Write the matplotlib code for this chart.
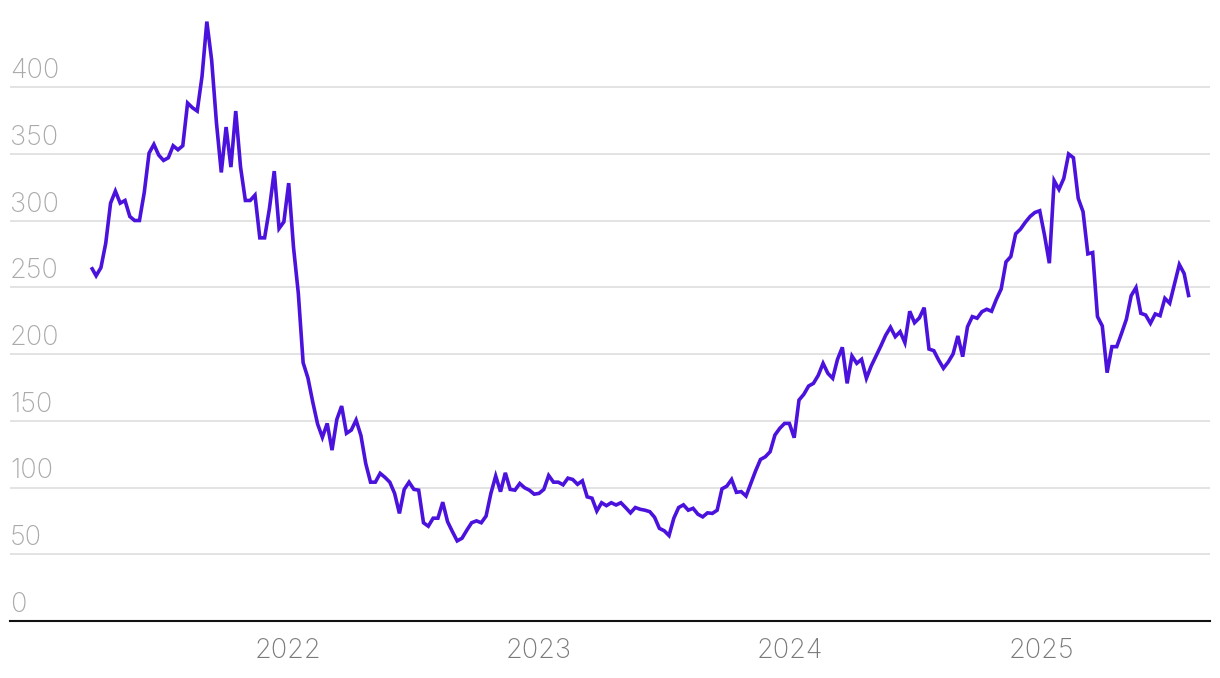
import matplotlib
matplotlib.use("Agg")
import matplotlib.pyplot as plt
import matplotlib.dates as mdates
import matplotlib.transforms as mtransforms
import pandas as pd
import numpy as np

# ---- data (weekly) ----
start_date = "2021-03-21"
values = [
    265, 258.6, 264.7, 283, 313, 322, 313, 315, 303, 300,
    300, 321, 350.5, 357, 349, 345, 347, 356, 353, 356,
    388, 384.5, 382, 408, 449, 420, 373, 336, 370, 340,
    382, 340, 315, 315, 319, 287, 287, 309, 337, 294,
    299, 328, 280, 245.5, 193.5, 182, 164, 147.6, 137.6, 148,
    128, 151, 161, 140.6, 143, 150.5, 139, 118, 104, 104,
    110.6, 107.6, 104, 95.6, 80.6, 98.6, 104, 98.6, 98, 73.6,
    71, 77, 77, 89, 74.4, 67, 60, 62, 68, 73.6,
    75, 73.6, 78.6, 95.6, 108.6, 96.9, 111, 98.6, 98, 103,
    99.8, 98, 95, 95.6, 98.6, 109, 104, 104, 102, 107,
    106, 102.4, 105, 93, 92, 82.4, 88.6, 86.4, 88.6, 86.9,
    88.6, 84.9, 81, 85, 83.7, 83, 81.9, 77.7, 69.4, 67.6,
    64, 77, 85, 87, 83, 84.4, 80, 78, 81, 80.6,
    83, 99, 101, 106, 96.4, 96.9, 93.6, 103, 112.6, 121,
    123, 126.8, 139.3, 144.3, 148, 148, 137.3, 165.5, 169.8, 176,
    178, 184, 193, 185.5, 181.8, 196, 205, 178, 198.5, 193,
    196, 181.8, 191, 198.5, 206, 214, 220, 213, 216.7, 208.5,
    232, 223.4, 227, 234.7, 203.7, 202.5, 195.5, 189.3, 194, 200,
    213.5, 198, 220.4, 228, 226.8, 231.7, 233.5, 232, 241, 248.7,
    269, 273, 290, 293.5, 298.6, 303, 306, 307.3, 289, 268,
    329.8, 323.3, 331.5, 349.8, 347, 316.6, 306.6, 275, 276, 228,
    221, 186, 205.5, 205.5, 215.5, 226, 243.7, 249.7, 230.5, 229.2,
    223, 230, 228.7, 241.7, 238, 252.4, 267, 260.3, 242.5,
]
y_ticks = [0, 50, 100, 150, 200, 250, 300, 350, 400]
x_tick_years = [2022, 2023, 2024, 2025]

dates = pd.date_range(start_date, periods=len(values), freq="7D")

# ---- style ----
plt.rcParams["font.family"] = ["Inter", "DejaVu Sans"]
LINE_COLOR = "#4a12dc"
GRID_COLOR = "#e3e3e3"

fig = plt.figure(figsize=(12.2, 6.78), dpi=100)
W, H = 1220, 678
ax = fig.add_axes([10 / W, (H - 621) / H, 1200 / W, 621 / H])

ax.plot(dates, values, color=LINE_COLOR, lw=2.6, solid_joinstyle="miter",
        solid_capstyle="butt", zorder=3)

ref = mdates.date2num(pd.Timestamp("2022-01-01"))
px_per_day = 251.2 / 365.25
ax.set_xlim(ref - (288 - 10) / px_per_day, ref + (1210 - 288) / px_per_day)
ax.set_ylim(0, 621 / (534 / 400))

for s in ["top", "right", "left"]:
    ax.spines[s].set_visible(False)
ax.spines["bottom"].set_color("#111111")
ax.spines["bottom"].set_linewidth(1.5)
ax.spines["bottom"].set_zorder(4)

ax.set_yticks([t for t in y_ticks if t > 0])
ax.yaxis.grid(True, color=GRID_COLOR, lw=1.4)
ax.set_axisbelow(True)
ax.tick_params(axis="y", length=0, labelleft=False)

# y labels above gridlines, left aligned
trans = mtransforms.blended_transform_factory(ax.transAxes, ax.transData)
offset = mtransforms.ScaledTranslation(0, 9 / 100, fig.dpi_scale_trans)
for t in y_ticks:
    ax.text(0, t, str(t), transform=trans + offset, ha="left", va="baseline",
            fontsize=19.5, color="#aaaaaa", fontweight="light")

xt = [pd.Timestamp(f"{y}-01-01") for y in x_tick_years]
ax.set_xticks(xt)
ax.set_xticklabels([str(y) for y in x_tick_years], fontsize=19.5,
                   color="#7a7a7a", fontweight="light")
ax.tick_params(axis="x", length=0, pad=12)

fig.savefig("out.png", dpi=100)
